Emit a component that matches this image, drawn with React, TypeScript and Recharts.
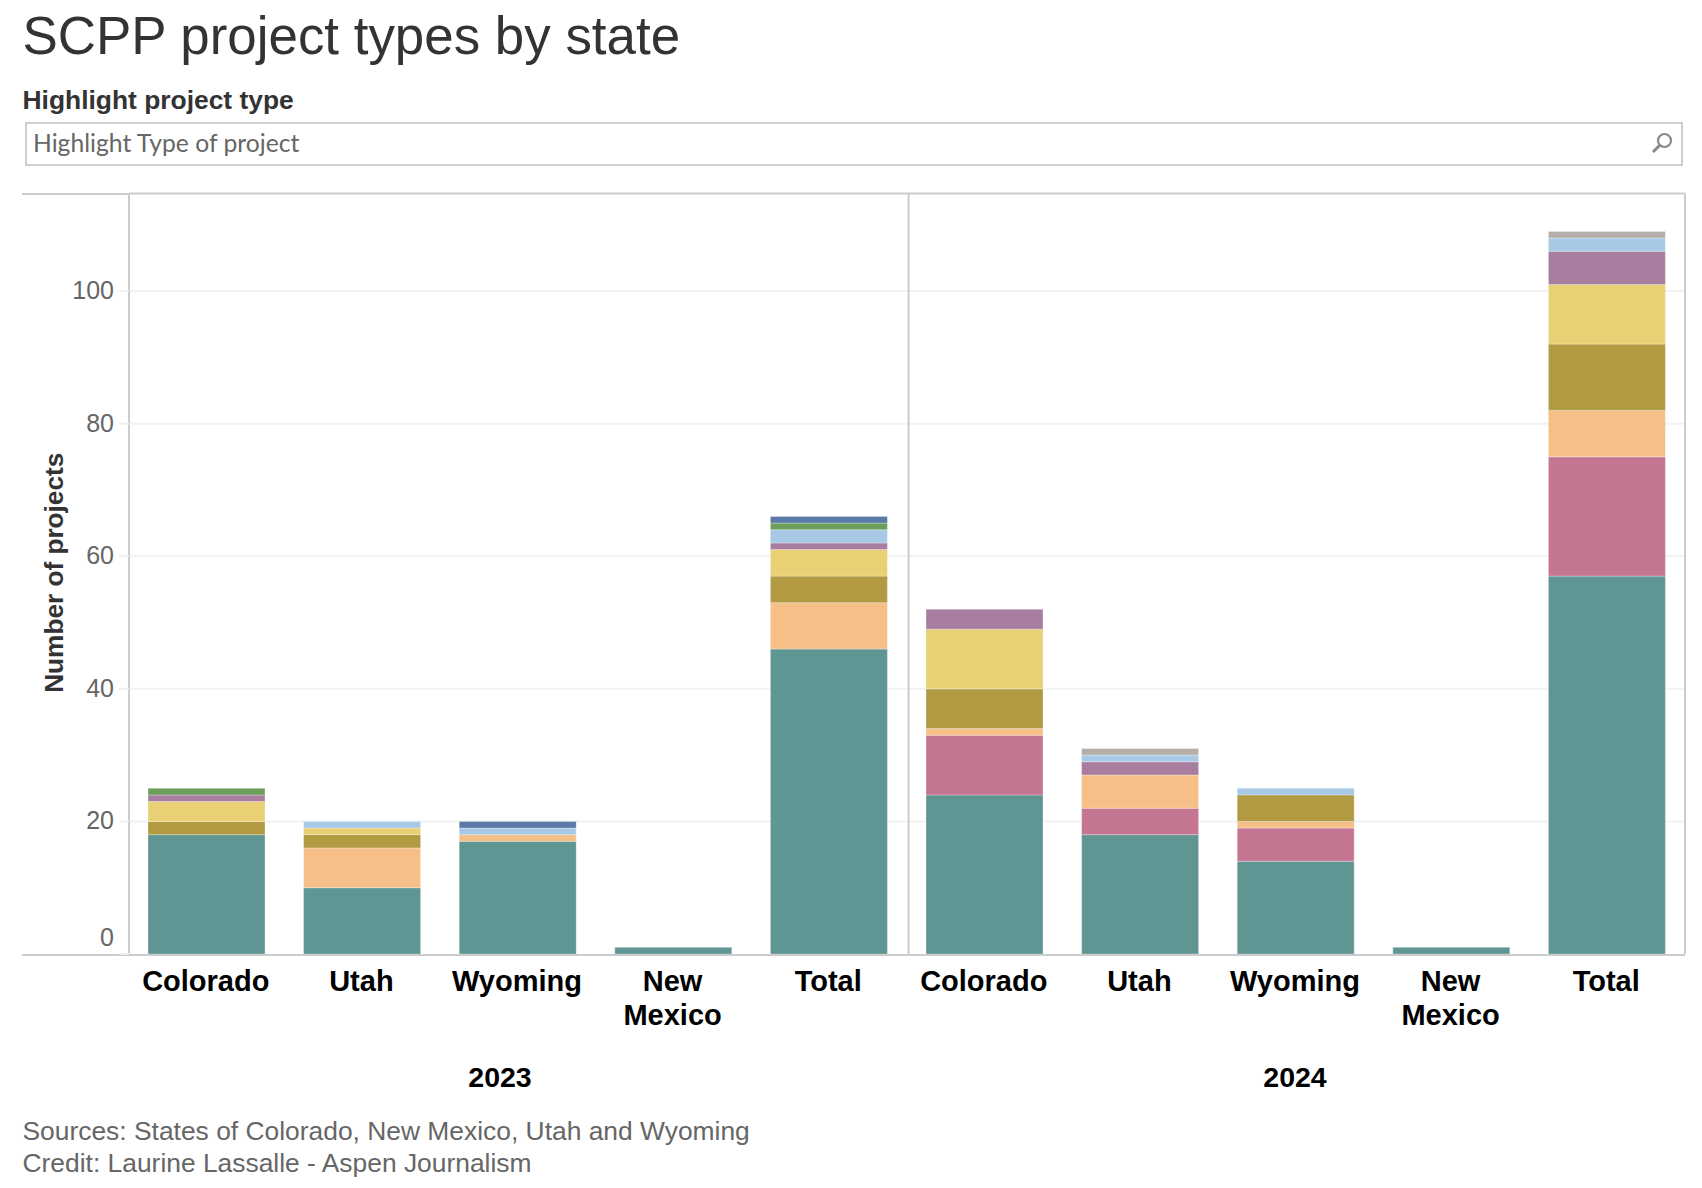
import React from "react";
import { BarChart, Bar, XAxis, YAxis, CartesianGrid, ReferenceLine } from "recharts";

const years = ["2023", "2023", "2023", "2023", "2023", "2024", "2024", "2024", "2024", "2024"];
const states = ["Colorado", "Utah", "Wyoming", "New Mexico", "Total", "Colorado", "Utah", "Wyoming", "New Mexico", "Total"];

const teal = [18, 10, 17, 1, 46, 24, 18, 14, 1, 57];
const pink = [0, 0, 0, 0, 0, 9, 4, 5, 0, 18];
const orange = [0, 6, 1, 0, 7, 1, 5, 1, 0, 7];
const olive = [2, 2, 0, 0, 4, 6, 0, 4, 0, 10];
const yellow = [3, 1, 0, 0, 4, 9, 0, 0, 0, 9];
const purple = [1, 0, 0, 0, 1, 3, 2, 0, 0, 5];
const lightBlue = [0, 1, 1, 0, 2, 0, 1, 1, 0, 2];
const green = [1, 0, 0, 0, 1, 0, 0, 0, 0, 0];
const darkBlue = [0, 0, 1, 0, 1, 0, 0, 0, 0, 0];
const gray = [0, 0, 0, 0, 0, 0, 1, 0, 0, 1];

const yTicks = [0, 20, 40, 60, 80, 100];
const edgeTicks = [0, 1, 2, 3, 4, 5, 6, 7, 8, 9];
const yearTicks = ["2023 Wyoming", "2024 Wyoming"];

const series = [
  { key: "teal", values: teal, color: "#5F9693" },
  { key: "pink", values: pink, color: "#C47592" },
  { key: "orange", values: orange, color: "#F5BF87" },
  { key: "olive", values: olive, color: "#B19A42" },
  { key: "yellow", values: yellow, color: "#E9D074" },
  { key: "purple", values: purple, color: "#A87D9F" },
  { key: "lightBlue", values: lightBlue, color: "#A8C9E6" },
  { key: "green", values: green, color: "#6C9F5B" },
  { key: "darkBlue", values: darkBlue, color: "#5A79A6" },
  { key: "gray", values: gray, color: "#B6AFA9" },
];

const rows = states.map((state, i) => {
  const row: Record<string, any> = { id: `${years[i]} ${state}` };
  series.forEach((s) => {
    row[s.key] = s.values[i];
  });
  return row;
});

const FONT = '"Liberation Sans", Arial, sans-serif';
const LINE = "#cccccc";

function StateTick({ x, y, payload }: any) {
  const words = String(payload.value).split(" ").slice(1);
  return (
    <text x={x - 1} textAnchor="middle" fontFamily={FONT} fontWeight={700} fontSize={29} fill="#000">
      {words.map((w: string, i: number) => (
        <tspan key={i} x={x - 1} y={y + 28 + i * 34}>
          {w}
        </tspan>
      ))}
    </text>
  );
}

function YearTick({ x, y, payload }: any) {
  const year = String(payload.value).split(" ")[0];
  return (
    <text x={year === "2023" ? x - 18 : x - 1} y={y + 35} textAnchor="middle" fontFamily={FONT} fontWeight={700} fontSize={28.5} fill="#000">
      {year}
    </text>
  );
}

function ValueTick({ x, y, payload }: any) {
  return (
    <text x={x} y={y + (payload.value === 0 ? -8 : 8)} textAnchor="end" fontFamily={FONT} fontSize={25} fill="#666">
      {payload.value}
    </text>
  );
}

const abs = (s: React.CSSProperties): React.CSSProperties => ({ position: "absolute", whiteSpace: "nowrap", ...s });

export default function App() {
  return (
    <div style={{ position: "absolute", left: 0, top: 0, width: 1702, height: 1188, background: "#fff", fontFamily: FONT, overflow: "hidden" }}>
      <div style={abs({ left: 22.5, top: 6, fontSize: 52.9, lineHeight: "60px", color: "#333" })}>SCPP project types by state</div>
      <div style={abs({ left: 22.5, top: 85, fontSize: 26.4, lineHeight: "30px", fontWeight: 700, color: "#333" })}>Highlight project type</div>
      <div style={abs({ left: 25, top: 122, width: 1654, height: 40, border: "2px solid #cfcfcf", boxSizing: "content-box" })} />
      <div style={abs({ left: 33, top: 127, fontSize: 24.7, lineHeight: "32px", color: "#666", fontFamily: 'Lato, sans-serif' })}>Highlight Type of project</div>
      <svg style={{ position: "absolute", left: 1650, top: 131 }} width={24} height={24}>
        <circle cx={14.5} cy={9.5} r={6.5} fill="none" stroke="#888" strokeWidth={2.2} />
        <line x1={10} y1={14} x2={3} y2={21} stroke="#888" strokeWidth={3} />
      </svg>

      <div style={abs({ left: 22, top: 193, width: 107, height: 2, background: LINE })} />
      <div style={abs({ left: 22, top: 953.5, width: 107, height: 2, background: LINE })} />

      <div style={{ position: "absolute", left: 0, top: 0 }}>
        <BarChart
          width={1702}
          height={1188}
          data={rows}
          margin={{ top: 193.6, right: 17, bottom: 104, left: 22 }}
          barSize={117}
          barGap={0}
        >
          <CartesianGrid vertical={false} horizontal horizontalValues={[20, 40, 60, 80, 100]} stroke="#f2f2f2" strokeWidth={2} />
          <XAxis
            xAxisId="edges"
            type="number"
            dataKey={() => 0}
            domain={[0, 10]}
            ticks={edgeTicks}
            height={1}
            axisLine={false}
            tick={false}
            tickLine={{ stroke: "#e6e6e6", strokeWidth: 2 }}
            tickSize={10}
            interval={0}
          />
          <XAxis
            xAxisId="states"
            dataKey="id"
            type="category"
            height={89}
            axisLine={{ stroke: LINE, strokeWidth: 2 }}
            tickLine={false}
            interval={0}
            tick={<StateTick />}
          />
          <XAxis
            xAxisId="years"
            dataKey="id"
            type="category"
            height={40}
            ticks={yearTicks}
            axisLine={false}
            tickLine={false}
            interval={0}
            tick={<YearTick />}
          />
          <YAxis
            type="number"
            domain={[0, 114.7]}
            allowDataOverflow
            ticks={yTicks}
            width={107}
            interval={0}
            axisLine={{ stroke: LINE, strokeWidth: 2 }}
            tickLine={{ stroke: "#f0f0f0", strokeWidth: 2 }}
            tickSize={10}
            tickMargin={5}
            tick={<ValueTick />}
            label={{
              value: "Number of projects",
              angle: -90,
              position: "insideLeft",
              offset: 0,
              dx: 32,
              dy: 119,
              style: { fontFamily: FONT, fontWeight: 700, fontSize: 26.2, fill: "#333" },
            }}
          />
          <ReferenceLine xAxisId="edges" x={5.01} stroke={LINE} strokeWidth={2} />
          <ReferenceLine xAxisId="edges" x={10} stroke={LINE} strokeWidth={2} />
          <ReferenceLine xAxisId="edges" y={114.7} stroke={LINE} strokeWidth={2} />
          {series.map((s) => (
            <Bar
              key={s.key}
              xAxisId="states"
              dataKey={s.key}
              stackId="projects"
              fill={s.color}
              stroke="#ffffff"
              strokeOpacity={0.3}
              strokeWidth={1}
              isAnimationActive={false}
            />
          ))}
        </BarChart>
      </div>

      <div style={abs({ left: 22.5, top: 1116, fontSize: 26.4, lineHeight: "30px", color: "#666" })}>Sources: States of Colorado, New Mexico, Utah and Wyoming</div>
      <div style={abs({ left: 22.5, top: 1148, fontSize: 26.4, lineHeight: "30px", color: "#666" })}>Credit: Laurine Lassalle - Aspen Journalism</div>
    </div>
  );
}
